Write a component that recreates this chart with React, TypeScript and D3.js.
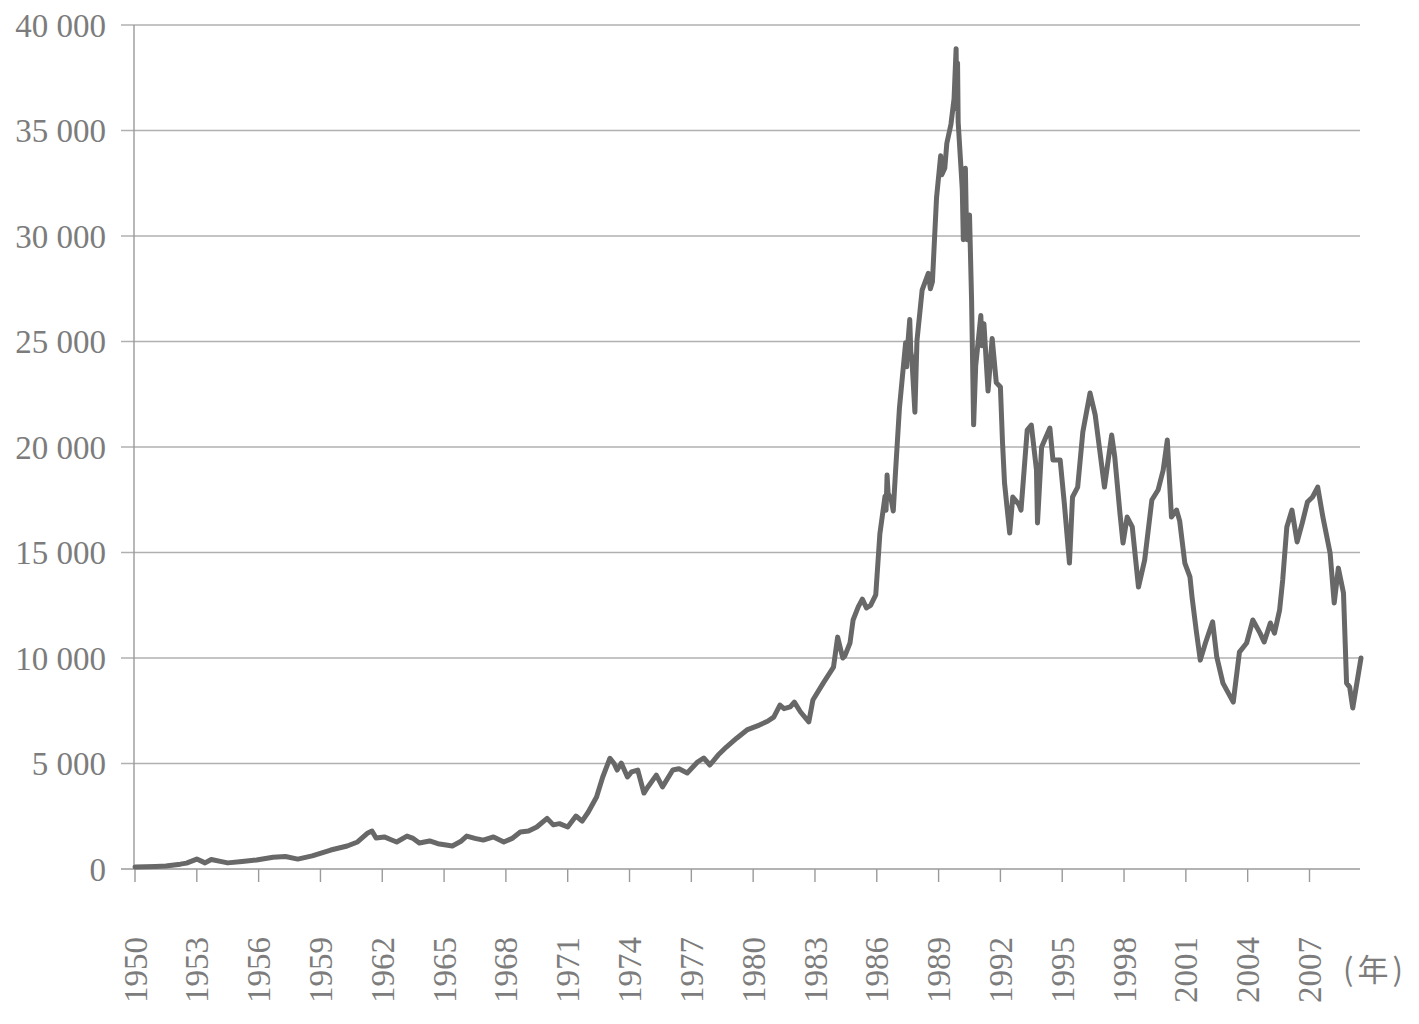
import React from "react";
import * as d3 from "d3";

// decimal year of each reading, and the index value
const dates = [
  1950.0, 1951.0, 1951.5, 1952.2, 1952.5, 1953.0, 1953.4, 1953.7, 1954.2, 1954.5,
  1955.2, 1955.9, 1956.7, 1957.3, 1957.9, 1958.6, 1959.5, 1960.3, 1960.8, 1961.3,
  1961.5, 1961.7, 1962.1, 1962.4, 1962.7, 1963.2, 1963.5, 1963.8, 1964.3, 1964.7,
  1965.1, 1965.4, 1965.8, 1966.1, 1966.5, 1966.9, 1967.4, 1967.9, 1968.3, 1968.7,
  1969.1, 1969.5, 1970.0, 1970.3, 1970.6, 1971.0, 1971.4, 1971.7, 1972.0, 1972.4,
  1972.7, 1973.05, 1973.25, 1973.4, 1973.6, 1973.9, 1974.1, 1974.4, 1974.7, 1974.9,
  1975.3, 1975.6, 1976.1, 1976.4, 1976.8, 1977.3, 1977.6, 1977.9, 1978.3, 1978.7,
  1979.2, 1979.7, 1980.3, 1980.7, 1981.0, 1981.3, 1981.5, 1981.8, 1982.0, 1982.3,
  1982.7, 1982.9, 1983.4, 1983.9, 1984.1, 1984.35, 1984.45, 1984.7, 1984.85, 1985.1,
  1985.3, 1985.5, 1985.7, 1985.95, 1986.15, 1986.4, 1986.45, 1986.5, 1986.55, 1986.7,
  1986.8, 1986.9, 1987.1, 1987.4, 1987.45, 1987.5, 1987.6, 1987.65, 1987.7, 1987.85,
  1987.95, 1988.2, 1988.5, 1988.6, 1988.7, 1988.9, 1989.1, 1989.15, 1989.3, 1989.4,
  1989.6, 1989.75, 1989.85, 1989.88, 1989.92, 1989.95, 1990.1, 1990.15, 1990.2, 1990.25,
  1990.3, 1990.35, 1990.4, 1990.5, 1990.6, 1990.7, 1990.8, 1991.05, 1991.1, 1991.2,
  1991.4, 1991.6, 1991.8, 1992.0, 1992.1, 1992.2, 1992.45, 1992.6, 1992.9, 1993.0,
  1993.3, 1993.5, 1993.75, 1993.8, 1994.0, 1994.4, 1994.55, 1994.9, 1995.1, 1995.35,
  1995.5, 1995.75, 1996.0, 1996.35, 1996.6, 1996.8, 1997.05, 1997.4, 1997.55, 1997.8,
  1997.95, 1998.15, 1998.4, 1998.7, 1999.0, 1999.35, 1999.65, 1999.9, 2000.1, 2000.3,
  2000.55, 2000.7, 2000.95, 2001.2, 2001.3, 2001.5, 2001.7, 2001.95, 2002.3, 2002.5,
  2002.8, 2003.3, 2003.6, 2003.95, 2004.25, 2004.6, 2004.8, 2005.1, 2005.3, 2005.55,
  2005.7, 2005.9, 2006.15, 2006.4, 2006.65, 2006.9, 2007.15, 2007.4, 2007.65, 2008.0,
  2008.2, 2008.4, 2008.65, 2008.8, 2008.95, 2009.1, 2009.5,
];

const values = [
  100, 120, 140, 230, 280, 470, 290, 450, 350, 290,
  360, 430, 560, 590, 470, 620, 900, 1090, 1280, 1710,
  1800, 1470, 1520, 1400, 1280, 1560, 1450, 1230, 1330, 1200,
  1140, 1090, 1300, 1560, 1450, 1370, 1520, 1280, 1450, 1750,
  1800, 1990, 2400, 2090, 2150, 1990, 2510, 2270, 2700, 3410,
  4360, 5250, 5000, 4690, 5020, 4360, 4600, 4690, 3600, 3900,
  4450, 3890, 4690, 4750, 4550, 5070, 5260, 4930, 5400, 5780,
  6200, 6590, 6820, 7000, 7200, 7770, 7600, 7680, 7910, 7440,
  6970, 8010, 8810, 9570, 10990, 10000, 10100, 10710, 11800, 12420,
  12790, 12370, 12490, 12990, 15880, 17670, 17000, 18670, 17800, 17500,
  16970, 18670, 21850, 24940, 23800, 24800, 26040, 24500, 24240, 21650,
  25040, 27430, 28230, 27500, 27830, 31810, 33800, 32900, 33210, 34400,
  35300, 36500, 38880, 36000, 38200, 35400, 33000, 32200, 29820, 33000,
  33210, 30500, 29820, 31000, 27000, 21050, 23840, 26230, 24800, 25840,
  22650, 25140, 23050, 22840, 20260, 18290, 15920, 17630, 17270, 17010,
  20800, 21040, 18910, 16400, 20000, 20900, 19380, 19380, 17350, 14500,
  17630, 18100, 20710, 22560, 21520, 20000, 18100, 20570, 19520, 16870,
  15450, 16680, 16210, 13360, 14640, 17490, 17960, 18910, 20330, 16680,
  17010, 16500, 14500, 13840, 12890, 11330, 9900, 10710, 11710, 10050,
  8810, 7910, 10280, 10710, 11800, 11180, 10760, 11660, 11180, 12270,
  13700, 16210, 17010, 15500, 16400, 17390, 17630, 18100, 16680, 14980,
  12610, 14260, 13080, 8810, 8620, 7630, 10000,
];

const yearTicks = [
  1950, 1953, 1956, 1959, 1962, 1965, 1968, 1971, 1974, 1977,
  1980, 1983, 1986, 1989, 1992, 1995, 1998, 2001, 2004, 2007,
];
const valueTicks = [0, 5000, 10000, 15000, 20000, 25000, 30000, 35000, 40000];
const unitLabel = "(年)";

const W = 1419;
const H = 1024;
const plot = { left: 135, right: 1361, top: 25, bottom: 869 };

const textColor = "#7c7c7c";
const gridColor = "#b0b0b0";
const axisColor = "#9a9a9a";
const lineColor = "#686868";
const fontFamily = "'Liberation Serif', 'Times New Roman', serif";

const fmt = (v: number) => (v >= 1000 ? d3.format(",")(v).replace(/,/g, " ") : String(v));

export default function App() {
  const x = d3.scaleLinear().domain([1950, 2009.5]).range([plot.left, plot.right]);
  const y = d3.scaleLinear().domain([0, 40000]).range([plot.bottom, plot.top]);

  const points = dates.map((d, i) => [d, values[i]] as [number, number]);
  const line = d3
    .line<[number, number]>()
    .x((d) => x(d[0]))
    .y((d) => y(d[1]));

  return (
    <svg
      width={W}
      height={H}
      viewBox={`0 0 ${W} ${H}`}
      style={{ position: "absolute", left: 0, top: 0, background: "#fff" }}
    >
      {/* horizontal gridlines and y ticks */}
      {valueTicks.map((v) => (
        <g key={v}>
          <line
            x1={plot.left - 14}
            x2={plot.right - 1}
            y1={y(v)}
            y2={y(v)}
            stroke={v === 0 ? axisColor : gridColor}
            strokeWidth={1.4}
          />
          <text
            x={106}
            y={y(v)}
            dy="0.35em"
            textAnchor="end"
            fontFamily={fontFamily}
            fontSize={33}
            fill={textColor}
          >
            {fmt(v)}
          </text>
        </g>
      ))}

      {/* y axis line */}
      <line x1={plot.left - 1} x2={plot.left - 1} y1={plot.top} y2={plot.bottom} stroke={axisColor} strokeWidth={1.4} />

      {/* x ticks and rotated year labels */}
      {yearTicks.map((t) => (
        <g key={t}>
          <line x1={x(t)} x2={x(t)} y1={plot.bottom} y2={plot.bottom + 13} stroke={axisColor} strokeWidth={1.4} />
          <text
            transform={`translate(${x(t)},937) rotate(-90)`}
            dy="0.35em"
            textAnchor="end"
            fontFamily={fontFamily}
            fontSize={33}
            fill={textColor}
          >
            {t}
          </text>
        </g>
      ))}

      <text
        x={1375}
        y={970}
        dy="0.35em"
        textAnchor="middle"
        fontFamily="'Noto Sans CJK SC', sans-serif"
        fontSize={31}
        fill={textColor}
        letterSpacing={4}
      >
        {unitLabel}
      </text>

      <path
        d={line(points) ?? ""}
        fill="none"
        stroke={lineColor}
        strokeWidth={5}
        strokeLinejoin="round"
        strokeLinecap="round"
      />
    </svg>
  );
}
